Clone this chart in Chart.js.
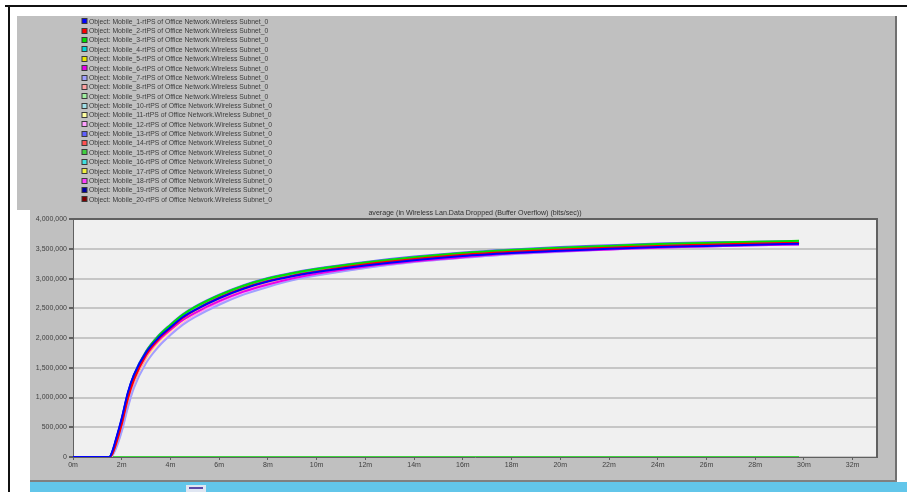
<!DOCTYPE html>
<html>
<head>
<meta charset="utf-8">
<script src="https://cdn.jsdelivr.net/npm/chart.js@4.4.0/dist/chart.umd.min.js"></script>
<style>
  html, body { margin: 0; padding: 0; background: #ffffff; overflow: hidden; }
  canvas { display: block; }
</style>
</head>
<body>
<canvas id="c" width="907" height="492"></canvas>
<script>
// Simulation time (minutes)
const timeMin = [0, 1.5, 1.6, 1.75, 2, 2.25, 2.5, 3, 3.5, 4, 4.5, 5, 6, 7, 8, 9, 10, 12, 14, 16, 18, 20, 22, 24, 26, 28, 29.8];

// Dropped data, buffer overflow (Mbit/s) per mobile node
const mobile01 = [0, 0, 0.08, 0.28, 0.65, 1.08, 1.38, 1.76, 2.00, 2.18, 2.35, 2.47, 2.67, 2.83, 2.95, 3.04, 3.11, 3.22, 3.31, 3.38, 3.43, 3.47, 3.50, 3.53, 3.55, 3.57, 3.585];
const mobile02 = [0, 0, 0.04, 0.20, 0.55, 0.98, 1.30, 1.72, 1.98, 2.17, 2.34, 2.47, 2.68, 2.84, 2.96, 3.05, 3.12, 3.24, 3.33, 3.40, 3.45, 3.49, 3.52, 3.55, 3.57, 3.59, 3.60];
const mobile03 = [0, 0, 0.06, 0.25, 0.62, 1.05, 1.37, 1.77, 2.03, 2.22, 2.39, 2.52, 2.72, 2.88, 3.00, 3.09, 3.16, 3.27, 3.36, 3.43, 3.48, 3.52, 3.55, 3.58, 3.60, 3.62, 3.635];
const mobile04 = [0, 0, 0.06, 0.24, 0.61, 1.04, 1.36, 1.76, 2.02, 2.21, 2.38, 2.51, 2.71, 2.87, 2.99, 3.08, 3.15, 3.26, 3.35, 3.42, 3.47, 3.51, 3.54, 3.57, 3.59, 3.61, 3.625];
const mobile05 = [0, 0, 0.05, 0.23, 0.60, 1.03, 1.35, 1.76, 2.02, 2.21, 2.38, 2.51, 2.71, 2.87, 2.99, 3.08, 3.15, 3.26, 3.35, 3.42, 3.47, 3.51, 3.54, 3.57, 3.59, 3.61, 3.62];
const mobile06 = [0, 0, 0.05, 0.22, 0.58, 1.00, 1.31, 1.71, 1.96, 2.14, 2.30, 2.42, 2.62, 2.78, 2.90, 3.00, 3.08, 3.20, 3.29, 3.36, 3.42, 3.46, 3.49, 3.52, 3.54, 3.56, 3.575];
const mobile07 = [0, 0, 0.02, 0.13, 0.43, 0.83, 1.16, 1.58, 1.85, 2.05, 2.22, 2.35, 2.56, 2.73, 2.86, 2.97, 3.05, 3.18, 3.28, 3.35, 3.41, 3.45, 3.49, 3.52, 3.54, 3.56, 3.575];
const mobile08 = [0, 0, 0.03, 0.17, 0.50, 0.92, 1.25, 1.67, 1.94, 2.13, 2.30, 2.43, 2.64, 2.80, 2.93, 3.02, 3.10, 3.22, 3.31, 3.38, 3.44, 3.48, 3.51, 3.54, 3.56, 3.58, 3.59];
const mobile09 = [0, 0, 0.04, 0.20, 0.56, 0.99, 1.32, 1.74, 2.01, 2.20, 2.37, 2.50, 2.70, 2.86, 2.98, 3.07, 3.14, 3.25, 3.34, 3.41, 3.46, 3.50, 3.53, 3.56, 3.58, 3.60, 3.615];
const mobile10 = [0, 0, 0.03, 0.18, 0.52, 0.94, 1.27, 1.69, 1.96, 2.16, 2.33, 2.46, 2.67, 2.83, 2.95, 3.05, 3.12, 3.24, 3.33, 3.40, 3.45, 3.49, 3.52, 3.55, 3.57, 3.59, 3.60];
const mobile11 = [0, 0, 0.03, 0.16, 0.48, 0.89, 1.22, 1.64, 1.91, 2.11, 2.28, 2.41, 2.62, 2.79, 2.92, 3.02, 3.10, 3.22, 3.31, 3.38, 3.44, 3.48, 3.51, 3.54, 3.56, 3.58, 3.59];
const mobile12 = [0, 0, 0.02, 0.14, 0.45, 0.85, 1.18, 1.60, 1.87, 2.07, 2.24, 2.37, 2.58, 2.75, 2.88, 2.98, 3.06, 3.18, 3.28, 3.35, 3.41, 3.45, 3.49, 3.52, 3.54, 3.56, 3.575];
const mobile13 = [0, 0, 0.07, 0.27, 0.64, 1.07, 1.38, 1.78, 2.04, 2.23, 2.40, 2.53, 2.73, 2.89, 3.01, 3.10, 3.17, 3.28, 3.37, 3.44, 3.49, 3.53, 3.56, 3.59, 3.61, 3.62, 3.63];
const mobile14 = [0, 0, 0.04, 0.19, 0.54, 0.97, 1.29, 1.71, 1.97, 2.16, 2.33, 2.46, 2.67, 2.83, 2.95, 3.04, 3.11, 3.23, 3.32, 3.39, 3.44, 3.48, 3.51, 3.54, 3.56, 3.58, 3.595];
const mobile15 = [0, 0, 0, 0, 0, 0, 0, 0, 0, 0, 0, 0, 0, 0, 0, 0, 0, 0, 0, 0, 0, 0, 0, 0, 0, 0, 0];
const mobile16 = [0, 0, 0.05, 0.22, 0.59, 1.02, 1.34, 1.75, 2.01, 2.20, 2.37, 2.50, 2.70, 2.86, 2.98, 3.07, 3.14, 3.25, 3.34, 3.41, 3.46, 3.50, 3.53, 3.56, 3.58, 3.60, 3.615];
const mobile17 = [0, 0, 0.05, 0.22, 0.59, 1.02, 1.34, 1.75, 2.02, 2.21, 2.38, 2.51, 2.71, 2.87, 2.99, 3.08, 3.15, 3.26, 3.35, 3.42, 3.47, 3.51, 3.54, 3.57, 3.59, 3.61, 3.62];
const mobile18 = [0, 0, 0.03, 0.16, 0.48, 0.89, 1.22, 1.63, 1.90, 2.10, 2.26, 2.39, 2.60, 2.77, 2.90, 3.00, 3.08, 3.20, 3.30, 3.37, 3.42, 3.46, 3.50, 3.53, 3.55, 3.57, 3.58];
const mobile19 = [0, 0, 0.07, 0.26, 0.63, 1.06, 1.37, 1.75, 1.99, 2.17, 2.33, 2.45, 2.65, 2.81, 2.93, 3.03, 3.10, 3.22, 3.31, 3.38, 3.43, 3.47, 3.50, 3.53, 3.55, 3.57, 3.585];
const mobile20 = [0, 0, 0.05, 0.22, 0.58, 1.01, 1.33, 1.74, 1.99, 2.18, 2.35, 2.48, 2.69, 2.85, 2.97, 3.06, 3.13, 3.24, 3.33, 3.40, 3.45, 3.49, 3.52, 3.55, 3.57, 3.59, 3.60];

const seriesValues = [mobile01, mobile02, mobile03, mobile04, mobile05, mobile06, mobile07, mobile08, mobile09, mobile10,
                      mobile11, mobile12, mobile13, mobile14, mobile15, mobile16, mobile17, mobile18, mobile19, mobile20];

const seriesNames = seriesValues.map((_, i) =>
  'Object: Mobile_' + (i + 1) + '-rtPS of Office Network.Wireless Subnet_0');

const seriesColors = ['#0000ff', '#ff0000', '#00e000', '#00d8d8', '#e8e800', '#e800e8', '#a0a0ff', '#ffa0a0', '#a0f0a0', '#a0e0e8',
                      '#ffffa0', '#ffa0ff', '#6060ff', '#ff5050', '#40d040', '#40e0e0', '#f0f040', '#ff40ff', '#0000a0', '#800000'];

const yTicksMax = 4000000;
const yTickStep = 500000;
const xMaxMin = 33;
const xTickStep = 2;
const chartTitle = 'average (in Wireless Lan.Data Dropped (Buffer Overflow) (bits/sec))';

const FONT = '"Liberation Sans", Arial, sans-serif';

// Window chrome: frame, grey panels, status strip and plot background
const chrome = {
  id: 'chrome',
  beforeDraw(chart) {
    const ctx = chart.ctx, a = chart.chartArea;
    ctx.save();
    ctx.fillStyle = '#ffffff';
    ctx.fillRect(0, 0, chart.width, chart.height);
    // outer frame
    ctx.fillStyle = '#111111';
    ctx.fillRect(5, 5, 902, 2);
    ctx.fillRect(8, 5, 2, 487);
    // grey panels
    ctx.fillStyle = '#c0c0c0';
    ctx.fillRect(17, 16, 880, 194);
    ctx.fillRect(30, 210, 867, 271);
    ctx.fillStyle = '#707070';
    ctx.fillRect(895, 16, 2, 465);
    ctx.fillStyle = '#808080';
    ctx.fillRect(30, 480, 867, 2);
    // status strip
    ctx.fillStyle = '#62c6ea';
    ctx.fillRect(30, 482, 877, 10);
    ctx.fillStyle = '#dfe6f2';
    ctx.fillRect(186, 485, 20, 7);
    ctx.fillStyle = '#5a4aa8';
    ctx.fillRect(189, 487, 14, 2);
    // plot background
    ctx.fillStyle = '#f0f0f0';
    ctx.fillRect(a.left, a.top, a.right - a.left, a.bottom - a.top);
    ctx.restore();
  },
  afterDraw(chart) {
    const ctx = chart.ctx, a = chart.chartArea;
    ctx.save();
    ctx.strokeStyle = '#606060';
    ctx.lineWidth = 2;
    ctx.beginPath();
    ctx.moveTo(a.left, a.top);
    ctx.lineTo(a.right, a.top);
    ctx.lineTo(a.right, a.bottom);
    ctx.stroke();
    ctx.restore();
  }
};

// Series list drawn as a single column above the plot
const seriesList = {
  id: 'seriesList',
  afterDraw(chart) {
    const ctx = chart.ctx;
    ctx.save();
    ctx.font = '6.8px ' + FONT;
    ctx.textBaseline = 'middle';
    ctx.textAlign = 'left';
    chart.data.datasets.forEach((ds, i) => {
      const y = 21.3 + i * 9.37;
      ctx.fillStyle = '#3a3a3a';
      ctx.fillRect(81.5, Math.round(y) - 3, 6, 6);
      ctx.fillStyle = ds.borderColor;
      ctx.fillRect(82.5, Math.round(y) - 2, 4, 4);
      ctx.fillStyle = '#3c3c3c';
      ctx.fillText(ds.label, 89, y + 0.5);
    });
    ctx.restore();
  }
};

const datasets = seriesValues.map((vals, i) => ({
  label: seriesNames[i],
  data: vals.map((v, k) => ({ x: timeMin[k], y: v * 1e6 })),
  borderColor: seriesColors[i],
  backgroundColor: seriesColors[i],
  borderWidth: 2,
  pointRadius: 0,
  fill: false,
  cubicInterpolationMode: 'monotone'
}));

new Chart(document.getElementById('c'), {
  type: 'line',
  data: { datasets },
  options: {
    responsive: false,
    animation: false,
    devicePixelRatio: 1,
    locale: 'en-US',
    layout: { padding: { left: 30, right: 30, top: 208.6, bottom: 0 } },
    plugins: {
      legend: { display: false },
      tooltip: { enabled: false },
      title: {
        display: true,
        text: chartTitle,
        position: 'top',
        fullSize: false,
        color: '#303030',
        font: { family: FONT, size: 7.1, weight: 'normal' },
        padding: { top: 0, bottom: 2 }
      }
    },
    scales: {
      x: {
        type: 'linear',
        min: 0,
        max: xMaxMin,
        ticks: {
          stepSize: xTickStep,
          includeBounds: false,
          autoSkip: false,
          maxRotation: 0,
          padding: 1,
          color: '#404040',
          font: { family: FONT, size: 7 },
          callback: v => v + 'm'
        },
        grid: { drawOnChartArea: false, tickColor: '#606060', tickLength: 3 },
        border: { color: '#606060', width: 1 },
        afterFit(s) { s.height = 35; }
      },
      y: {
        min: 0,
        max: yTicksMax,
        ticks: {
          stepSize: yTickStep,
          padding: 2,
          color: '#404040',
          font: { family: FONT, size: 7 }
        },
        grid: { color: '#c6c6c6', lineWidth: 2, tickColor: '#606060', tickLength: 4 },
        border: { color: '#606060', width: 1 },
        afterFit(s) { s.width = 43; }
      }
    }
  },
  plugins: [chrome, seriesList]
});
</script>
</body>
</html>
